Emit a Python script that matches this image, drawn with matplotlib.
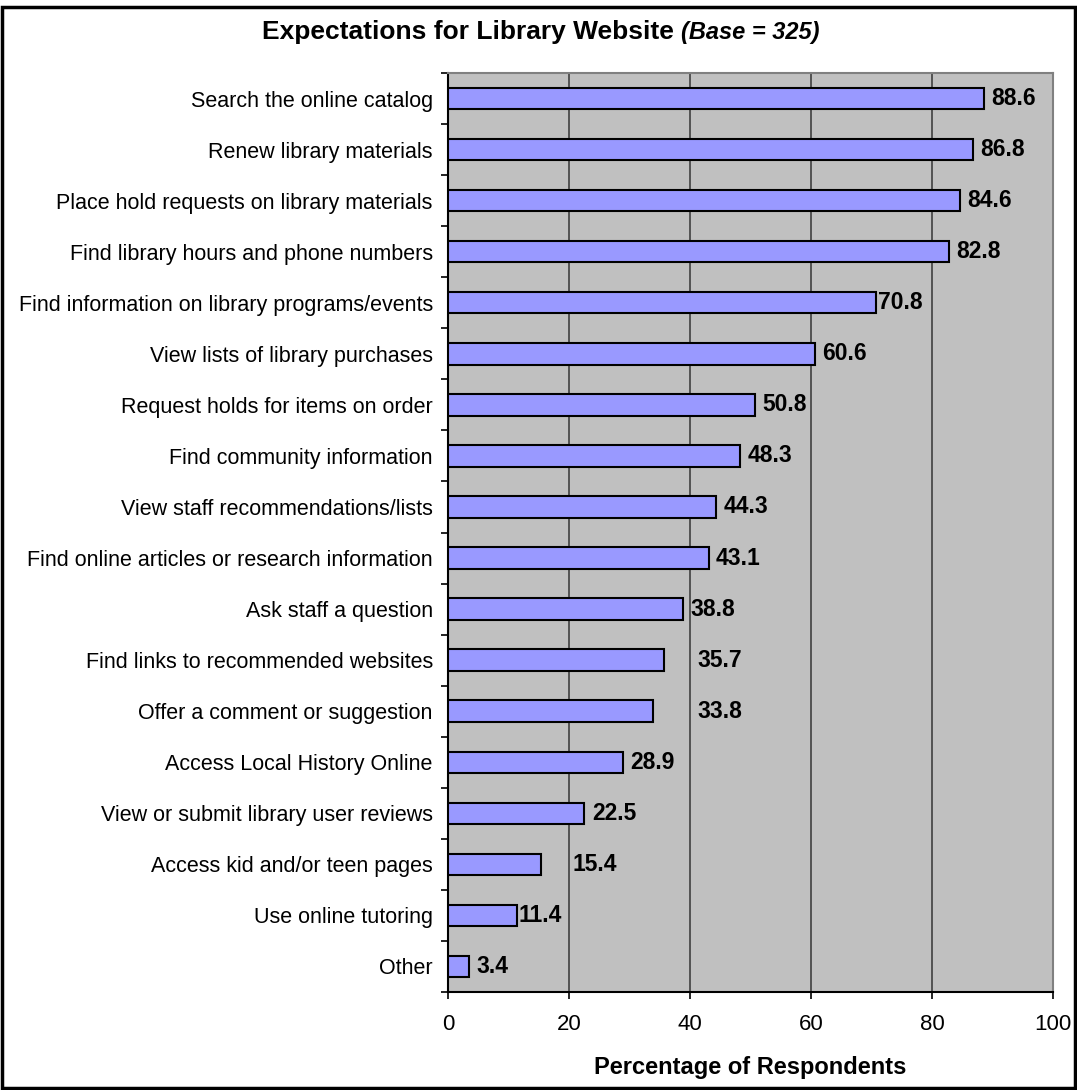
import matplotlib.pyplot as plt
from matplotlib.patches import Rectangle

plt.rcParams['font.family'] = ['Liberation Sans', 'DejaVu Sans']

categories = [
    "Search the online catalog",
    "Renew library materials",
    "Place hold requests on library materials",
    "Find library hours and phone numbers",
    "Find information on library programs/events",
    "View lists of library purchases",
    "Request holds for items on order",
    "Find community information",
    "View staff recommendations/lists",
    "Find online articles or research information",
    "Ask staff a question",
    "Find links to recommended websites",
    "Offer a comment or suggestion",
    "Access Local History Online",
    "View or submit library user reviews",
    "Access kid and/or teen pages",
    "Use online tutoring",
    "Other",
]
values = [88.6, 86.8, 84.6, 82.8, 70.8, 60.6, 50.8, 48.3, 44.3, 43.1,
          38.8, 35.7, 33.8, 28.9, 22.5, 15.4, 11.4, 3.4]
x_ticks = [0, 20, 40, 60, 80, 100]

# gap between bar end and value label (the original has a few odd ones)
label_pad = [1.2, 1.2, 1.2, 1.2, 0.2, 1.2, 1.2, 1.2, 1.2, 1.2,
             1.2, 5.5, 7.4, 1.3, 1.3, 5.2, 0.2, 1.3]

fig = plt.figure(figsize=(10.77, 10.90), dpi=100)
ax = fig.add_axes([0.416, 0.0899, 0.5617, 0.8431])

pos = list(range(len(categories)))
ax.set_facecolor("#C0C0C0")
ax.barh(pos, values, height=0.42, color="#9999FF", edgecolor="black",
        linewidth=1.5, zorder=3)

for p, v, pad in zip(pos, values, label_pad):
    ax.text(v + pad, p, f"{v:.1f}", va="center", ha="left",
            fontsize=16.5, fontweight="bold", zorder=4)

ax.set_xlim(0, 100)
ax.set_ylim(len(categories) - 0.5, -0.5)
ax.set_xticks(x_ticks)
ax.set_xticklabels([str(t) for t in x_ticks], fontsize=16)
ax.set_yticks(pos)
ax.set_yticklabels(categories, fontsize=15.5)
ax.set_yticks([p + 0.5 for p in range(-1, len(categories))], minor=True)
ax.tick_params(axis="y", which="major", length=0, pad=11)
ax.tick_params(axis="y", which="minor", length=5, width=1.2, direction="out")
ax.tick_params(axis="x", length=5, width=1.2, direction="out", pad=11)

ax.xaxis.grid(True, color="#404040", linewidth=1.2)
ax.set_axisbelow(True)
for side in ["left", "bottom"]:
    ax.spines[side].set_color("black")
    ax.spines[side].set_linewidth(1.5)
for side in ["top", "right"]:
    ax.spines[side].set_color("#808080")
    ax.spines[side].set_linewidth(1.5)

ax.set_xlabel("Percentage of Respondents", fontsize=17, fontweight="bold",
              va="center")
ax.xaxis.set_label_coords(0.5, -0.082)

# title: bold part plus bold italic part, centred together
fig.canvas.draw()
r = fig.canvas.get_renderer()
t1 = fig.text(0, 0.9706, "Expectations for Library Website ", fontsize=19,
              fontweight="bold", va="center", ha="left")
t2 = fig.text(0, 0.9706, "(Base = 325)", fontsize=17, fontweight="bold",
              style="italic", va="center", ha="left")
w1 = t1.get_window_extent(r).width / fig.bbox.width
w2 = t2.get_window_extent(r).width / fig.bbox.width
x0 = 0.502 - (w1 + w2) / 2
t1.set_x(x0)
t2.set_x(x0 + w1)

fig.patches.append(Rectangle((0.002, 0.002), 0.996, 0.992,
                             transform=fig.transFigure, fill=False,
                             edgecolor="black", linewidth=2.5))

fig.savefig("out.png", dpi=100)
